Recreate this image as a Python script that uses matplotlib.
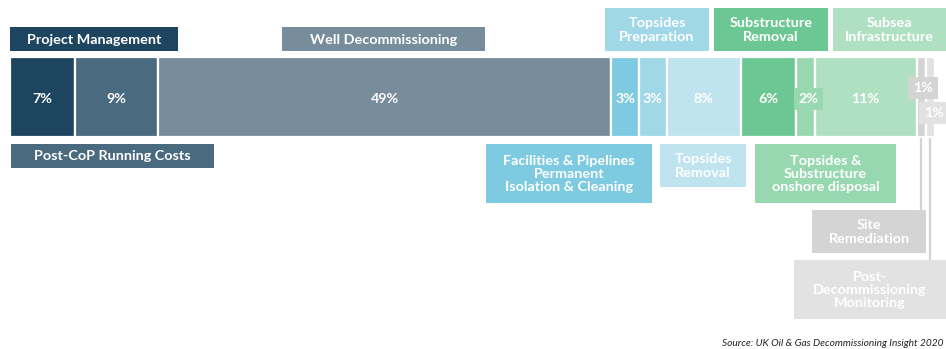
import matplotlib.pyplot as plt
from matplotlib.patches import Rectangle
import numpy as np

# cost split by activity (percent of total decommissioning spend)
categories = ["Project Management", "Post-CoP Running Costs", "Well Decommissioning",
              "Facilities & Pipelines Permanent Isolation & Cleaning", "Topsides Preparation",
              "Topsides Removal", "Substructure Removal",
              "Topsides & Substructure onshore disposal", "Subsea Infrastructure",
              "Site Remediation", "Post-Decommissioning Monitoring"]
shares = [7, 9, 49, 3, 3, 8, 6, 2, 11, 1, 1]
colors = ["#1d4560", "#4a6a80", "#778d9c", "#7ecbe1", "#a0d8e8", "#bfe4ef",
          "#6cc794", "#98d8b0", "#afe0c2", "#d4d4d4", "#e2e2e2"]

# label boxes: wrapped text, box (x0, x1, y0, y1) in pixels
box_text = ["Project Management", "Post-CoP Running Costs", "Well Decommissioning",
            "Facilities & Pipelines\nPermanent\nIsolation & Cleaning", "Topsides\nPreparation",
            "Topsides\nRemoval", "Substructure\nRemoval",
            "Topsides &\nSubstructure\nonshore disposal", "Subsea\nInfrastructure",
            "Site\nRemediation", "Post-\nDecommissioning\nMonitoring"]
box_pos = [(10, 178, 27, 51), (11, 214, 144, 168), (282, 485, 27, 51),
           (486, 652, 144, 203), (605, 709, 8, 51),
           (660, 746, 144, 187), (714, 828, 8, 51),
           (755, 896, 144, 203), (833, 946, 8, 51),
           (812, 926, 210, 253), (794, 946, 260, 319)]

W, H = 946, 349
FONT = ["Lato", "DejaVu Sans"]

fig = plt.figure(figsize=(W / 100, H / 100), dpi=100)

# bar axes: x in percent, bar spans pixel 10..935
ax = fig.add_axes([0, 0, 1, 1])
px_per_pct = 925 / 100
ax.set_xlim(-10 / px_per_pct, (W - 10) / px_per_pct)
ax.set_ylim(H, 0)
ax.axis("off")

lefts = np.concatenate([[0], np.cumsum(shares)[:-1]])
ax.barh(97, shares, left=lefts, height=80, color=colors,
        edgecolor="white", linewidth=1.6, zorder=2)

# connector lines from the 1% slices down to their label boxes
for i, yend in [(9, 210), (10, 260)]:
    xc = lefts[i] + shares[i] / 2
    ax.plot([xc, xc], [137, yend], color="#d2d2d2", lw=1.6, zorder=1)

# percentage labels (small slices get a boxed, offset label; offsets in px)
label_shift = {7: (3, 0), 9: (2, -11), 10: (4, 14)}
for i, (v, l) in enumerate(zip(shares, lefts)):
    dx, dy = label_shift.get(i, (0, 0))
    kw = {}
    if i in label_shift:
        kw["bbox"] = dict(boxstyle="square,pad=0.35", fc=colors[i], ec="none")
    ax.text(l + v / 2 + dx / px_per_pct, 99 + dy, f"{v}%", ha="center", va="center",
            color="white", fontsize=10.3, fontweight="bold", family=FONT,
            zorder=4, **kw)

# label boxes in pixel space
lay = fig.add_axes([0, 0, 1, 1])
lay.set_xlim(0, W)
lay.set_ylim(H, 0)
lay.axis("off")
lay.patch.set_alpha(0)
for txt, (x0, x1, y0, y1), c in zip(box_text, box_pos, colors):
    lay.add_patch(Rectangle((x0, y0), x1 - x0, y1 - y0, fc=c, ec="none"))
    lay.text((x0 + x1) / 2, (y0 + y1) / 2 + 0.5, txt, ha="center", va="center",
             color="white", fontsize=10.4, fontweight="bold", family=FONT,
             linespacing=1.12)

lay.text(722, 344, "Source: UK Oil & Gas Decommissioning Insight 2020",
         ha="left", va="center", fontsize=7.3, style="italic", color="#222222",
         family=FONT)

fig.savefig("out.png", dpi=100)
